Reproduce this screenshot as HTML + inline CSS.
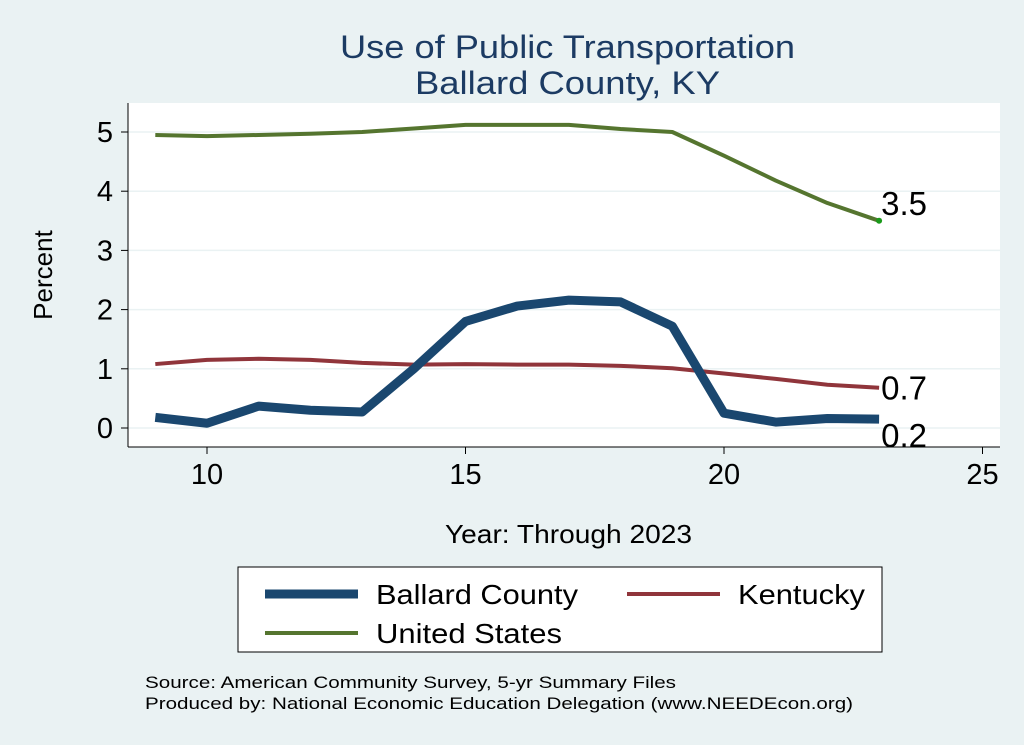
<!DOCTYPE html>
<html><head><meta charset="utf-8"><style>
body{margin:0;background:#eaf2f3;}
svg{display:block;font-family:"Liberation Sans",sans-serif;}
</style></head><body>
<svg width="1024" height="745">
<rect x="0" y="0" width="1024" height="745" fill="#eaf2f3"/>
<text x="340" y="58" font-size="32" fill="#1c3b63" textLength="455" lengthAdjust="spacingAndGlyphs">Use of Public Transportation</text>
<text x="415" y="94" font-size="32" fill="#1c3b63" textLength="305" lengthAdjust="spacingAndGlyphs">Ballard County, KY</text>
<rect x="128" y="103" width="872" height="344" fill="#fff"/>
<g id="grid"></g>
<g id="axes"></g>
<g id="series"></g>
<text x="52" y="275" font-size="26" text-anchor="middle" transform="rotate(-90 52 275)">Percent</text>
<text x="445" y="543" font-size="26" textLength="247" lengthAdjust="spacingAndGlyphs">Year: Through 2023</text>
<g>
<rect x="238" y="567" width="644" height="85" fill="#fff" stroke="#000" stroke-width="1"/>
<line x1="265" y1="594" x2="358" y2="594" stroke="#1a476f" stroke-width="9"/>
<text x="376" y="604" font-size="28" textLength="202" lengthAdjust="spacingAndGlyphs">Ballard County</text>
<line x1="627" y1="594" x2="720" y2="594" stroke="#90353b" stroke-width="4"/>
<text x="738" y="604" font-size="28" textLength="127" lengthAdjust="spacingAndGlyphs">Kentucky</text>
<line x1="265" y1="633" x2="358" y2="633" stroke="#55752f" stroke-width="4"/>
<text x="376" y="643" font-size="28" textLength="186" lengthAdjust="spacingAndGlyphs">United States</text>
</g>
<text x="145" y="688" font-size="17" textLength="531" lengthAdjust="spacingAndGlyphs">Source: American Community Survey, 5-yr Summary Files</text>
<text x="145" y="709" font-size="17" textLength="708" lengthAdjust="spacingAndGlyphs">Produced by: National Economic Education Delegation (www.NEEDEcon.org)</text>
</svg>
<script>
const years=[9,10,11,12,13,14,15,16,17,18,19,20,21,22,23];
const ballard=[0.18,0.08,0.37,0.3,0.27,1.0,1.8,2.06,2.16,2.13,1.72,0.25,0.1,0.16,0.15];
const kentucky=[1.08,1.15,1.17,1.15,1.1,1.07,1.08,1.07,1.07,1.05,1.01,0.92,0.83,0.73,0.68];
const unitedStates=[4.95,4.93,4.95,4.97,5.0,5.06,5.12,5.12,5.12,5.05,5.0,4.6,4.18,3.8,3.5];
const xTicks=[10,15,20,25];
const yTicks=[0,1,2,3,4,5];
const endLabels=["0.2","0.7","3.5"];
const NS="http://www.w3.org/2000/svg";
const X=v=>207+(v-10)*51.7;
const Y=v=>428-v*59.2;
function mk(t,a,p){const e=document.createElementNS(NS,t);for(const k in a)e.setAttribute(k,a[k]);p.appendChild(e);return e;}
const grid=document.getElementById('grid'),axes=document.getElementById('axes'),ser=document.getElementById('series');
mk('line',{x1:128,y1:447,x2:1000,y2:447,stroke:'#000','stroke-width':1},axes);
mk('line',{x1:128,y1:103,x2:128,y2:447,stroke:'#000','stroke-width':1},axes);
yTicks.forEach(t=>{
 const g=mk('line',{x1:128,y1:Y(t),x2:1000,y2:Y(t),stroke:'#eaf2f3','stroke-width':1.5},grid);
 
 
 mk('line',{x1:121,y1:Y(t),x2:128,y2:Y(t),stroke:'#000'},axes);
 const tx=mk('text',{x:113,y:Y(t)+10,'font-size':29,'text-anchor':'end'},axes);
 tx.textContent=t;
 
 
});
xTicks.forEach(t=>{
 mk('line',{x1:X(t),y1:447,x2:X(t),y2:454,stroke:'#000'},axes);
 const tx=mk('text',{x:X(t),y:484,'font-size':29,'text-anchor':'middle'},axes);
 tx.textContent=t;
 
 
});
function line(vals,color,w,name){
 const p=mk('polyline',{points:years.map((y,i)=>X(y)+','+Y(vals[i])).join(' '),fill:'none',stroke:color,'stroke-width':w,'stroke-linejoin':'round'},ser);
 
 
}
line(unitedStates,'#55752f',4,'line-united-states');
line(kentucky,'#90353b',4,'line-kentucky');
line(ballard,'#1a476f',9,'line-ballard-county');
const n=years.length-1;
mk('circle',{cx:X(years[n]),cy:Y(unitedStates[n]),r:3,fill:'#1a9a1a'},ser);
[[ballard,16,'end-label-ballard'],[kentucky,12,'end-label-kentucky'],[unitedStates,-6,'end-label-us']].forEach((d,i)=>{
 const v=d[0][n];
 const t=mk('text',{x:X(years[n])+2,y:Y(v)+d[1]+(i==0?12:0),'font-size':33},ser);
 t.textContent=endLabels[i];
 
 
});
</script>
</body></html>
